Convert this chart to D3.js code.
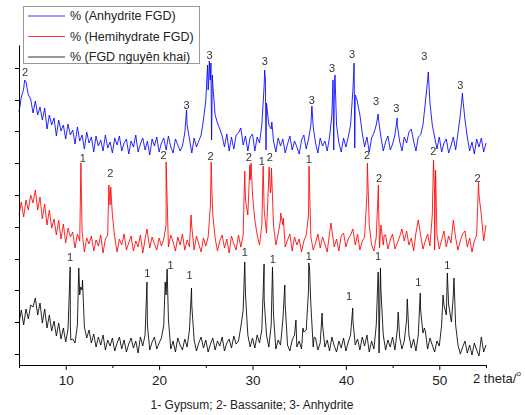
<!DOCTYPE html>
<html>
<head>
<meta charset="utf-8">
<script src="https://cdn.jsdelivr.net/npm/d3@7"></script>
<style>
  body { margin: 0; background: #fff; }
  svg { display: block; font-family: Arial, "Liberation Sans", sans-serif; }
</style>
</head>
<body>
<svg id="chart" width="525" height="415"></svg>
<script>
/* XRD patterns of three FGD gypsum samples, stacked (intensity in a.u.)
   base arrays: sampled every 0.25 deg from 2theta = 5
   peak arrays: extra [2theta, intensity] points at sharp reflections   */
var START = 5, STEP = 0.25;

var anhydriteBase = [
  253, 268, 276, 283, 270, 266, 252, 264, 250, 258, 245, 257, 236, 250, 240, 247, 229, 245, 234, 240,
  226, 241, 230, 235, 221, 238, 224, 230, 216, 233, 222, 228, 213, 229, 219, 225, 214, 230, 217, 223,
  212, 227, 220, 229, 214, 222, 226, 211, 224, 218, 230, 213, 221, 227, 215, 224, 210, 226, 219, 228,
  213, 222, 227, 215, 229, 218, 212, 226, 220, 214, 219, 232, 240, 226, 212, 227, 218, 224, 230, 245,
  265, 275, 285, 280, 250, 242, 236, 229, 218, 231, 214, 228, 216, 230, 232, 237, 220, 229, 214, 228,
  231, 214, 228, 222, 240, 280, 262, 240, 236, 224, 213, 227, 219, 226, 212, 221, 229, 215, 224, 218,
  211, 225, 230, 216, 226, 240, 238, 222, 212, 227, 219, 224, 214, 228, 250, 265, 240, 222, 213, 227,
  218, 228, 240, 275, 270, 262, 250, 232, 218, 228, 213, 227, 232, 240, 245, 228, 214, 223, 229, 215,
  221, 230, 240, 224, 214, 228, 222, 233, 236, 224, 214, 228, 230, 240, 262, 285, 262, 240, 228, 216,
  228, 213, 222, 226, 212, 219, 228, 215, 232, 250, 268, 245, 228, 214, 223, 211, 226, 218, 227, 213,
  222
];
var anhydritePeaks = [
  [5.6, 285], [22.94, 255], [25.19, 300], [25.3, 282], [25.38, 304], [25.46, 285], [25.55, 302],
  [25.62, 225], [25.7, 290], [31.3, 295], [31.38, 286], [31.45, 215], [32.07, 243], [36.36, 259],
  [38.62, 285], [38.7, 215], [38.83, 290], [40.88, 302], [40.95, 217], [41.2, 265], [43.45, 251],
  [45.49, 247], [48.82, 293], [52.48, 272]
];

var hemihydrateBase = [
  150, 163, 148, 165, 155, 170, 162, 175, 155, 168, 146, 161, 140, 155, 137, 146, 130, 145, 126, 141,
  122, 137, 128, 133, 117, 131, 124, 134, 113, 127, 121, 129, 114, 125, 119, 130, 112, 126, 130, 160,
  150, 128, 113, 126, 120, 131, 115, 122, 129, 114, 124, 118, 130, 112, 126, 133, 117, 128, 121, 115,
  127, 119, 126, 140, 118, 130, 123, 114, 128, 120, 131, 115, 125, 118, 138, 115, 129, 121, 113, 127,
  119, 128, 160, 150, 127, 114, 124, 130, 117, 126, 112, 129, 121, 115, 130, 118, 130, 165, 150, 185,
  170, 145, 130, 120, 140, 155, 132, 190, 180, 140, 120, 131, 145, 140, 118, 125, 131, 114, 128, 120,
  126, 113, 124, 130, 150, 128, 115, 122, 131, 117, 128, 121, 113, 132, 135, 118, 126, 114, 129, 132,
  118, 126, 130, 136, 120, 131, 115, 124, 128, 170, 140, 120, 114, 128, 160, 140, 120, 130, 116, 125,
  131, 116, 122, 128, 136, 124, 134, 120, 127, 114, 132, 145, 130, 116, 124, 131, 119, 150, 170, 130,
  116, 125, 134, 118, 129, 122, 145, 127, 115, 124, 131, 134, 118, 127, 113, 124, 130, 170, 150, 124,
  140
];
var hemihydratePeaks = [
  [11.63, 202], [14.62, 180], [14.72, 165], [14.82, 178], [18.7, 136], [20.75, 203], [23.42, 150],
  [25.58, 203], [25.65, 175], [29.17, 194], [29.72, 200], [29.85, 202], [31.14, 199], [31.78, 198],
  [31.92, 172], [32.03, 197], [33.02, 152], [33.3, 147], [36.05, 199], [38.4, 142], [42.3, 202],
  [43.48, 180], [43.6, 117], [44.1, 130], [49.38, 205], [49.5, 115], [49.6, 195], [54.2, 183]
];

var rawBase = [
  42, 55, 40, 56, 46, 60, 58, 67, 50, 62, 42, 56, 37, 50, 34, 44, 29, 42, 26, 37,
  23, 36, 40, 26, 22, 40, 70, 75, 38, 27, 35, 22, 31, 18, 28, 20, 30, 15, 25, 19,
  27, 14, 22, 28, 16, 25, 13, 21, 27, 17, 24, 12, 28, 19, 30, 40, 15, 23, 28, 16,
  22, 27, 40, 70, 45, 16, 24, 13, 27, 20, 15, 26, 18, 35, 60, 25, 14, 22, 28, 17,
  25, 13, 21, 27, 15, 24, 19, 28, 14, 22, 26, 17, 29, 21, 24, 38, 55, 70, 30, 18,
  27, 17, 30, 22, 35, 65, 30, 18, 40, 50, 16, 25, 20, 45, 60, 20, 14, 25, 30, 18,
  24, 16, 33, 35, 75, 60, 18, 27, 15, 22, 40, 18, 25, 14, 28, 19, 13, 24, 17, 27,
  14, 23, 30, 45, 20, 26, 15, 28, 19, 30, 13, 24, 16, 40, 80, 75, 30, 15, 25, 18,
  28, 15, 35, 28, 16, 24, 45, 30, 17, 26, 14, 30, 55, 32, 34, 16, 27, 20, 13, 24,
  19, 40, 60, 50, 60, 45, 70, 40, 20, 11, 18, 24, 12, 20, 10, 22, 15, 9, 28, 13,
  20
];
var rawPeaks = [
  [10.48, 98], [10.55, 25], [11.4, 97], [11.6, 78], [11.8, 85], [18.7, 83], [20.65, 83], [20.86, 96],
  [23.47, 77], [29.17, 103], [31.24, 101], [32.14, 98], [33.46, 80], [34.65, 45], [35.4, 37],
  [36.02, 102], [36.1, 98], [36.6, 28], [37.45, 52], [40.73, 57], [43.45, 93], [43.55, 12],
  [43.7, 97], [45.6, 53], [46.57, 66], [47.96, 72], [48.4, 37], [50.4, 70], [50.86, 92],
  [51.1, 55], [51.3, 43], [51.57, 87]
];

/* phase markers: [2theta, intensity, label] */
var anhydriteMarks = [
  [5.65, 293, '2'], [22.94, 260, '3'], [25.41, 310, '3'], [31.32, 304, '3'], [36.36, 265, '3'],
  [38.51, 297, '3'], [40.66, 311, '3'], [43.24, 264, '3'], [45.39, 257, '3'], [48.39, 309, '3'],
  [52.26, 280, '3']
];
var hemihydrateMarks = [
  [11.84, 207, '1'], [14.77, 192, '2'], [20.47, 210, '2'], [25.52, 209, '2'], [29.6, 208, '2'],
  [30.99, 204, '1'], [31.85, 208, '2'], [36.04, 206, '1'], [42.27, 210, '2'], [43.56, 187, '2'],
  [49.36, 214, '2'], [54.09, 187, '2']
];
var rawMarks = [
  [10.48, 108, '1'], [18.75, 92, '1'], [21.22, 100, '1'], [23.26, 90, '1'], [29.17, 113, '1'],
  [32.18, 106, '1'], [36.04, 109, '1'], [40.34, 69, '1'], [43.45, 109, '1'], [47.75, 83, '1'],
  [50.87, 100, '1']
];

var seriesNames = ['% (Anhydrite FGD)', '% (Hemihydrate FGD)', '% (FGD nguy\u00EAn khai)'];
var seriesColors = ['#0000ff', '#ff0000', '#000000'];
var xMajorTicks = [10, 20, 30, 40, 50];
var xMinorTicks = [5, 15, 25, 35, 45, 55];
var yTicks = [11, 43, 75, 106, 138, 170, 202, 234, 265, 297];
var caption = '1- Gypsum; 2- Bassanite; 3- Anhydrite';

function toPoints(base, peaks) {
  return base.map(function (v, i) { return [START + i * STEP, v]; })
    .concat(peaks)
    .sort(function (a, b) { return a[0] - b[0]; });
}

(function () {
  var svg = d3.select('#chart');
  var x = d3.scaleLinear().domain([5, 55]).range([19, 486]);
  var y = d3.scaleLinear().domain([0, 320]).range([365, 45]);

  // greyscale filter so small digits don't get colour fringes
  svg.append('defs').append('filter').attr('id', 'grey')
    .append('feColorMatrix').attr('type', 'saturate').attr('values', 0);

  var series = [
    { pts: toPoints(anhydriteBase, anhydritePeaks), marks: anhydriteMarks },
    { pts: toPoints(hemihydrateBase, hemihydratePeaks), marks: hemihydrateMarks },
    { pts: toPoints(rawBase, rawPeaks), marks: rawMarks }
  ];

  var line = d3.line().x(function (d) { return x(d[0]); }).y(function (d) { return y(d[1]); });

  /* curves (black drawn first, blue on top) */
  series.slice().reverse().forEach(function (s, k) {
    var idx = 2 - k;
    svg.append('path').datum(s.pts)
      .attr('d', line)
      .attr('fill', 'none')
      .attr('stroke', seriesColors[idx])
      .attr('stroke-width', 0.85)
      .attr('stroke-linejoin', 'round');
  });

  /* phase labels */
  var gLab = svg.append('g').attr('filter', 'url(#grey)');
  series.forEach(function (s) {
    gLab.append('g').selectAll('text').data(s.marks).enter().append('text')
      .attr('x', function (d) { return x(d[0]); })
      .attr('y', function (d) { return y(d[1]); })
      .attr('dy', '0.35em')
      .attr('text-anchor', 'middle')
      .style('font-size', '11px')
      .style('fill', '#333')
      .text(function (d) { return d[2]; });
  });

  /* axes */
  var gMinor = svg.append('g').attr('transform', 'translate(0,365)')
    .call(d3.axisBottom(x).tickValues(xMinorTicks).tickSize(3).tickSizeOuter(0).tickFormat(''));
  gMinor.select('.domain').remove();

  var gx = svg.append('g').attr('transform', 'translate(0,365)')
    .call(d3.axisBottom(x).tickValues(xMajorTicks).tickSize(5).tickSizeOuter(0).tickPadding(5));
  gx.selectAll('text').style('font-size', '13.5px').style('fill', '#222')
    .style('font-family', 'Arial, "Liberation Sans", sans-serif');

  svg.append('g').attr('transform', 'translate(19,0)')
    .call(d3.axisLeft(y).tickValues(yTicks).tickSize(4).tickSizeOuter(0).tickFormat(''));

  svg.selectAll('.domain, .tick line').attr('stroke', '#000');

  var xt = svg.append('text').attr('x', 473).attr('y', 383)
    .style('font-size', '13px').style('fill', '#222');
  xt.append('tspan').text('2 theta/');
  xt.append('tspan').attr('dy', -7).style('font-size', '8px').text('o');

  /* legend */
  var lg = svg.append('g');
  lg.append('rect').attr('x', 23.5).attr('y', 6.5).attr('width', 176).attr('height', 57)
    .attr('fill', '#fff').attr('stroke', '#999').attr('stroke-width', 1);
  seriesNames.forEach(function (name, i) {
    var cy = 16 + i * 20.5;
    lg.append('line').attr('x1', 28).attr('x2', 65).attr('y1', cy).attr('y2', cy)
      .attr('stroke', seriesColors[i]).attr('stroke-width', 0.8);
    lg.append('text').attr('x', 70).attr('y', cy).attr('dy', '0.35em')
      .style('font-size', '12.5px').style('fill', '#222').text(name);
  });

  /* caption */
  svg.append('text').attr('x', 252).attr('y', 409).attr('text-anchor', 'middle')
    .style('font-size', '12px').style('fill', '#222').text(caption);
})();
</script>
</body>
</html>
